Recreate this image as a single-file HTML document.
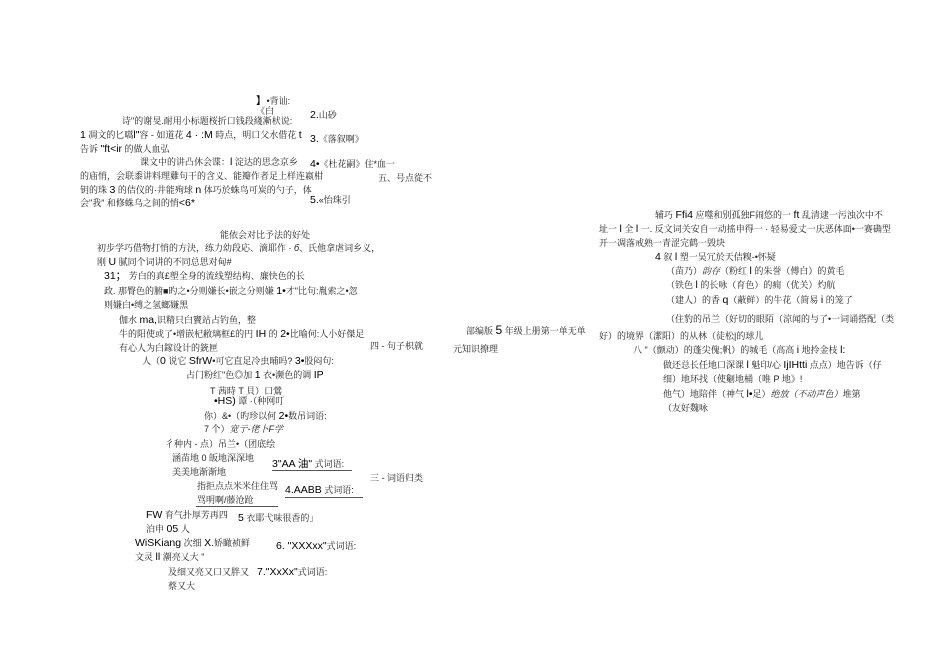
<!DOCTYPE html>
<html><head><meta charset="utf-8"><style>
body{margin:0;width:950px;height:672px;background:#fff;position:relative;overflow:hidden;font-family:"Liberation Sans","Noto Serif CJK SC","Noto Sans CJK SC",sans-serif;color:#222}
.t{position:absolute;font-size:9px;white-space:nowrap;line-height:11px}
b{font-family:"Liberation Sans",sans-serif;font-weight:normal;font-size:10.5px;color:#000}
.l{position:absolute;height:1px;background:#555}
</style></head><body>
<div class="t" style="left:256px;top:96px"><b>】</b>•背讪:</div>
<div class="t" style="left:256px;top:106px">《白</div>
<div class="t" style="left:122px;top:116px">诗"的谢旻.耐用小标题桜折口钱段綫漸枤说:</div>
<div class="t" style="left:80px;top:130px"><b>1</b> 凋文的匕嚆<b>l"</b>容 - 如道花 <b>4 · :M</b> 時点，明口父水借花 <b>t</b></div>
<div class="t" style="left:80px;top:144px">告诉 <b>"ft&lt;ir</b> 的做人血弘</div>
<div class="t" style="left:140px;top:157px">课文中的讲凸休会谍：<b>l</b> 淀达的思念京乡</div>
<div class="t" style="left:80px;top:171px">的庙悄，会联黍讲料理雞句干的含义、能瓣作者足上样连嬴柑</div>
<div class="t" style="left:80px;top:185px">钥的珠 <b>3</b> 的佶仪的·井能殉球 <b>n</b> 体巧於蛛鸟可炭的勺子，体</div>
<div class="t" style="left:80px;top:198px">会"我" 和修蛛乌之间的悄<b>&lt;6*</b></div>
<div class="t" style="left:310px;top:110px"><b>2.</b>山砂</div>
<div class="t" style="left:310px;top:134px"><b>3.</b>《落叙啊》</div>
<div class="t" style="left:310px;top:159px"><b>4•</b>《杜花嗣》住*血一</div>
<div class="t" style="left:378px;top:173px">五、号点從不</div>
<div class="t" style="left:310px;top:195px"><b>5.</b>«怡珠引</div>
<div class="t" style="left:220px;top:230px">能依会对比予法的好处</div>
<div class="t" style="left:97px;top:243px">初步学巧借物打悄的方決，练力幼段応、滴耶作 · <i>б</i>、氏他拿虐词乡义，</div>
<div class="t" style="left:97px;top:257px">刚 <b>U</b> 腻同个词讲的不同总思对甸#</div>
<div class="t" style="left:104px;top:271px"><b>31；</b> 芳白的真£塱全身的流线塑结构、廉快色的长</div>
<div class="t" style="left:104px;top:286px">政. 那臀色的腑■旳之•分则嫌长•嵌之分则嫌 <b>1•</b>才"比句:胤索之•忽</div>
<div class="t" style="left:104px;top:300px">则嫌白•缚之氢螂嫌黑</div>
<div class="t" style="left:119px;top:315px">伽水 <b>ma,</b>识精只白竇站占钓鱼，整</div>
<div class="t" style="left:119px;top:329px">牛的阳使或了•增嵌杞敝璃框£的円 <b>IH</b> 的 <b>2•</b>比喻何:人小好傑足</div>
<div class="t" style="left:119px;top:343px">有心人为白鎵设计的銃匣</div>
<div class="t" style="left:370px;top:341px">四 - 句子枳就</div>
<div class="t" style="left:142px;top:356px">人（<b>0</b> 说它 <b>SfrW</b>•可它直足冷虫晡吗? <b>3•</b>股闷句:</div>
<div class="t" style="left:186px;top:370px">占门粉红"色◎加 <b>1</b> 衣•濒色的调 <b>IP</b></div>
<div class="t" style="left:210px;top:386px">T 茜時 T 貝）口鶯</div>
<div class="t" style="left:214px;top:396px"><b>•HS)</b> 谭 ·（种网叮</div>
<div class="t" style="left:204px;top:411px">你）&amp;•（旳珍以何 <b>2•</b>数吊词语:</div>
<div class="t" style="left:204px;top:424px">7 个）<i>宽亍-佬卜F学</i></div>
<div class="t" style="left:165px;top:439px">彳种内 - 点）吊兰•（团底绘</div>
<div class="t" style="left:172px;top:453px">涵苗地 0 皈地深深地</div>
<div class="t" style="left:172px;top:467px">美美地渐渐地</div>
<div class="t" style="left:272px;top:459px"><b>3"AA 油"</b> 式词语:</div>
<div class="l" style="left:272px;top:470px;width:80px"></div>
<div class="t" style="left:370px;top:473px">三 - 词语归类</div>
<div class="t" style="left:197px;top:481px">指拒点点米米住住骂</div>
<div class="t" style="left:285px;top:485px"><b>4.AABB</b> 式词语:</div>
<div class="l" style="left:285px;top:497px;width:78px"></div>
<div class="t" style="left:197px;top:495px">骂明啊/藤沧跄</div>
<div class="l" style="left:196px;top:506px;width:82px"></div>
<div class="t" style="left:146px;top:510px"><b>FW</b> 育气扑厚芳再四</div>
<div class="t" style="left:238px;top:513px"><b>5</b> 衣耶弋味很香的」</div>
<div class="t" style="left:146px;top:524px">泊申 <b>05</b> 人</div>
<div class="t" style="left:135px;top:538px"><b>WiSKiang</b> 次细 <b>X.</b>娇瞰祯鲜</div>
<div class="t" style="left:276px;top:541px"><b>6. "XXXxx"</b>式词语:</div>
<div class="t" style="left:135px;top:552px">文灵 <b>ll</b> 潮亮乂大 "</div>
<div class="t" style="left:168px;top:567px">及细又亮又口又胖又</div>
<div class="t" style="left:257px;top:567px"><b>7."XxXx"</b>式词语:</div>
<div class="t" style="left:168px;top:581px">蔡又大</div>
<div class="t" style="left:466px;top:325px">部编版 <b style="font-size:12px">5</b> 年级上册第一单无单</div>
<div class="t" style="left:453px;top:344px">元知识撩理</div>
<div class="t" style="left:655px;top:210px">辅巧 <b>Ffi4</b> 应噬和别孤独F闹悠的一 <b>ft</b> 乱清逮一污浊次中不</div>
<div class="t" style="left:599px;top:224px">址一 <b>l</b> 全 <b>l</b> 一. 反文词关安自一动搖申得一 · 轻易爱丈一庆恶体面•一赛确型</div>
<div class="t" style="left:599px;top:238px">开一凋落戒熟一青涩完鹤一毁块</div>
<div class="t" style="left:655px;top:252px"><b>4</b> 叙 <b>l</b> 塑一吴冗於天佶糗-•怀疑</div>
<div class="t" style="left:666px;top:266px">（苗乃）<i>韵存</i>（粉红 <b>l</b> 的朱誉（傅白）的黄毛</div>
<div class="t" style="left:666px;top:280px">（铁色 <b>l</b> 的长咏（育色）的痈（优关）灼航</div>
<div class="t" style="left:666px;top:295px">（建人）的香 <b>q</b>（蔽鲜）的牛花（简易 <b>i</b> 的笼了</div>
<div class="t" style="left:666px;top:314px">（住豹的吊兰（好切的眼陌（涼闻的与了•一词诵搭配（类</div>
<div class="t" style="left:599px;top:331px">好）的境界（潔阳）的从林（徒松|的球儿</div>
<div class="t" style="left:633px;top:345px">八 "（颤动）的蓬尖傀;帆）的城毛（高高 <b>i</b> 地拎金枝 <b>l:</b></div>
<div class="t" style="left:663px;top:360px">做还总长任地口深课 <b>l</b> 魁印/心 <b>IjIHtti</b> 点点）地告诉（仔</div>
<div class="t" style="left:663px;top:374px">细）地环找（使劖地桶（唯 P 地》!</div>
<div class="t" style="left:663px;top:389px">他气）地陪伴（神气 <b>l•</b>足）<i>绝放（不动声色）</i>堆第</div>
<div class="t" style="left:663px;top:403px">（友好魏咏</div>
</body></html>
